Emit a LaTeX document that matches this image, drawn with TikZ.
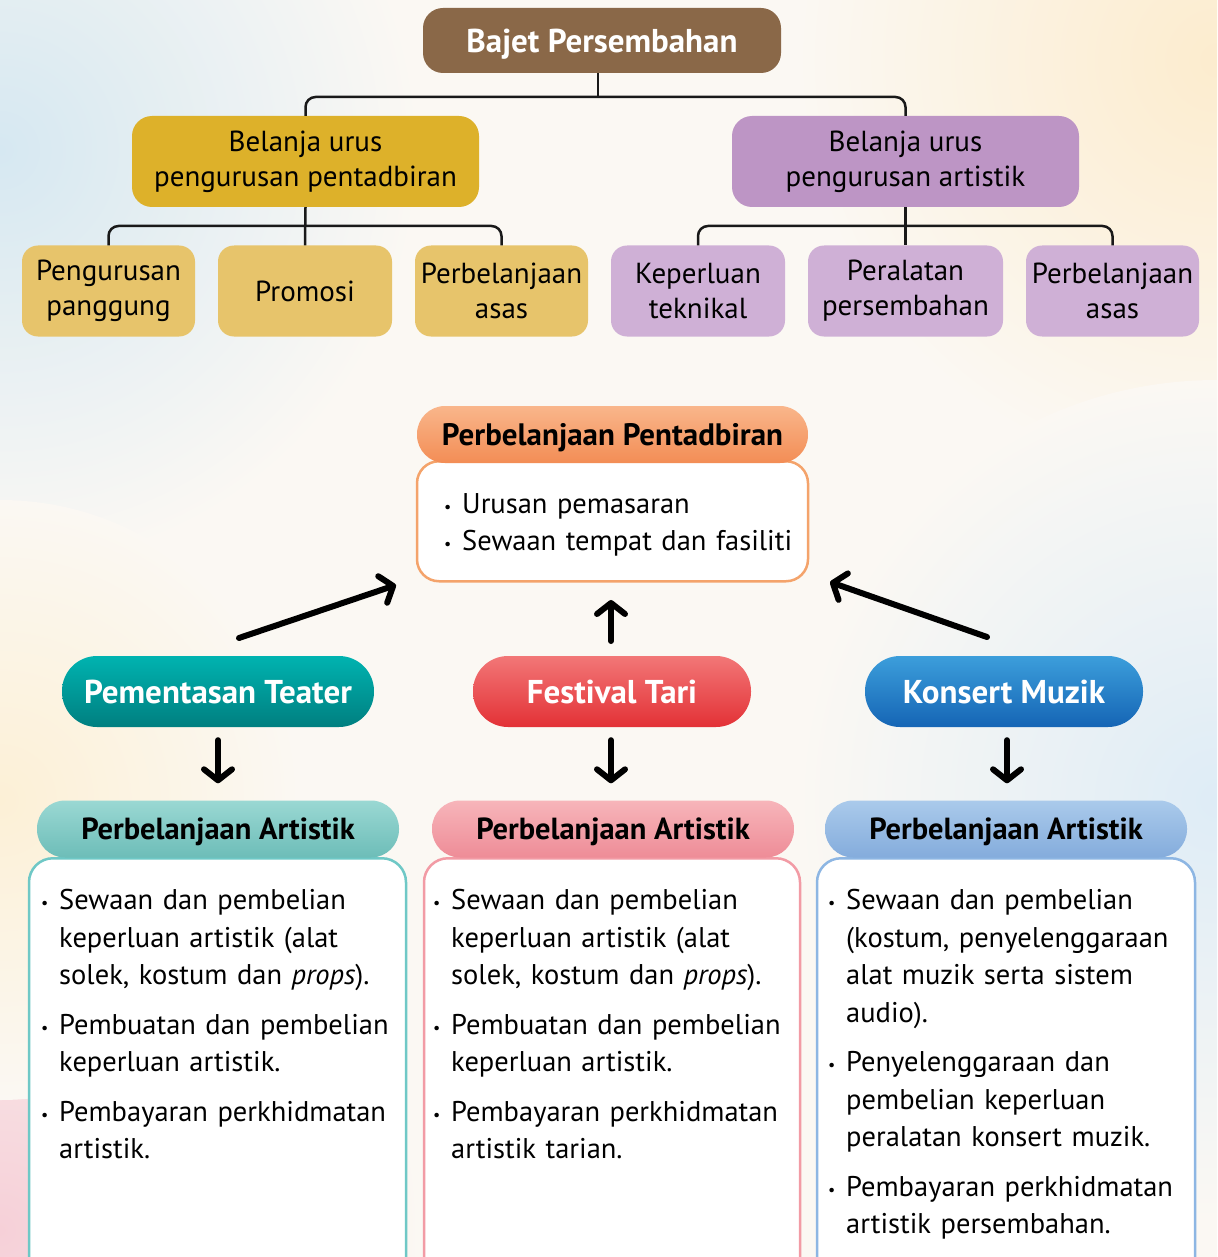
\documentclass[tikz,border=0pt]{standalone}
\usepackage{fontspec}
\setmainfont{PT Sans}
\usetikzlibrary{arrows.meta,calc}
\definecolor{bgbase}{HTML}{FBF8F3}
\definecolor{brownc}{HTML}{8A6848}
\definecolor{goldc}{HTML}{DDB12A}
\definecolor{purplec}{HTML}{BD95C5}
\definecolor{lgoldc}{HTML}{E7C46B}
\definecolor{lpurplec}{HTML}{CFB0D6}
\definecolor{orangeT}{HTML}{F9B68B}
\definecolor{orangeB}{HTML}{F38D55}
\definecolor{orangeL}{HTML}{F4A36B}
\definecolor{tealT}{HTML}{00B3B0}
\definecolor{tealB}{HTML}{007F80}
\definecolor{redT}{HTML}{F27777}
\definecolor{redB}{HTML}{E33136}
\definecolor{blueT}{HTML}{3C9EDB}
\definecolor{blueB}{HTML}{1565B5}
\definecolor{ltealT}{HTML}{9AD8D3}
\definecolor{ltealB}{HTML}{6DBDB8}
\definecolor{ltealL}{HTML}{6FC8C6}
\definecolor{pinkT}{HTML}{F7B5BA}
\definecolor{pinkB}{HTML}{EE8C97}
\definecolor{pinkL}{HTML}{F29BA5}
\definecolor{lblueT}{HTML}{AACAEB}
\definecolor{lblueB}{HTML}{84ACDC}
\definecolor{lblueL}{HTML}{8DB6E3}
\newlength\bulw
\setlength\bulw{18pt}
\newcommand\bitem[1]{\noindent\llap{\makebox[\bulw][l]{\raisebox{1pt}{\fontsize{16}{16}\selectfont •}}}#1\par}
\newcommand\bstart{\leftskip=\bulw\relax}
\tikzset{
  box/.style={rounded corners=16pt, inner sep=0pt, align=center, font=\fontsize{29}{35}\selectfont},
  pill/.style={rounded corners=35pt, inner sep=0pt, minimum width=278pt, minimum height=71pt, text=white, text depth=0pt, font=\bfseries\fontsize{33}{34}\selectfont},
  hdr/.style={rounded corners=28pt, inner sep=0pt, minimum width=362pt, minimum height=57pt, text depth=0pt, font=\bfseries\fontsize{30.5}{32}\selectfont},
  body/.style={draw, line width=2.5pt, fill=white, rounded corners=24pt, inner sep=0pt, minimum width=377pt, minimum height=440pt},
  bodytext/.style={anchor=north west, inner sep=0pt, text width=372pt, align=left, font=\fontsize{28.5}{37.5}\selectfont},
  tree/.style={line width=2.5pt, draw=black!90, rounded corners=10pt},
  bigarrow/.style={line width=6pt, line cap=round, line join=round, -{Straight Barb[length=11pt,width=28pt,round]}}
}
\begin{document}
\begin{tikzpicture}[x=1pt,y=-1pt]
\clip (0,0) rectangle (1217,1257);
\useasboundingbox (0,0) rectangle (1217,1257);
% background
\fill[bgbase] (0,0) rectangle (1217,1257);
\shade[inner color={rgb,255:red,214;green,232;blue,242}, outer color=bgbase] (0,150) circle (420);
\shade[inner color={rgb,255:red,252;green,236;blue,206}, outer color=bgbase] (1217,60) circle (420);
\shade[inner color={rgb,255:red,246;green,208;blue,216}, outer color=bgbase] (0,1230) circle (420);
\shade[inner color={rgb,255:red,222;green,236;blue,246}, outer color=bgbase] (1217,800) circle (420);
\shade[inner color={rgb,255:red,252;green,240;blue,214}, outer color=bgbase] (0,800) circle (300);

% ---------- tree ----------
\node[box, fill=brownc, minimum width=358pt, minimum height=65pt, rounded corners=20pt, text=white, text depth=0pt, font=\bfseries\fontsize{33}{34}\selectfont] (top) at (602,40.5) {Bajet Persembahan};
\node[box, fill=goldc, minimum width=347pt, minimum height=91pt, rounded corners=20pt] (bl) at (305.5,161.5) {Belanja urus\\pengurusan pentadbiran};
\node[box, fill=purplec, minimum width=347pt, minimum height=91pt, rounded corners=20pt] (br) at (905.5,161.5) {Belanja urus\\pengurusan artistik};

\node[box, fill=lgoldc, minimum width=173pt, minimum height=91pt] (a1) at (108.5,291) {Pengurusan\\panggung};
\node[box, fill=lgoldc, minimum width=174pt, minimum height=91pt] (a2) at (305,291) {Promosi};
\node[box, fill=lgoldc, minimum width=173pt, minimum height=91pt] (a3) at (501.5,291) {Perbelanjaan\\asas};
\node[box, fill=lpurplec, minimum width=174pt, minimum height=91pt] (b1) at (698,291) {Keperluan\\teknikal};
\node[box, fill=lpurplec, minimum width=195pt, minimum height=91pt] (b2) at (905.5,291) {Peralatan\\persembahan};
\node[box, fill=lpurplec, minimum width=173pt, minimum height=91pt] (b3) at (1112.5,291) {Perbelanjaan\\asas};

\coordinate (j1) at (598,97);
\coordinate (j2) at (305,226);
\coordinate (j3) at (905.5,226);
\draw[tree] (top.south -| j1) -- (j1);
\draw[tree] (bl.north) |- (j1) -| (br.north);
\draw[tree] (bl.south) -- (a2.north);
\draw[tree] (a1.north) |- (j2) -| (a3.north);
\draw[tree] (br.south) -- (b2.north);
\draw[tree] (b1.north) |- (j3) -| (b3.north);

% ---------- Pentadbiran ----------
\node[body, draw=orangeL, minimum width=391pt, minimum height=120pt, rounded corners=22pt, anchor=north] (pbody) at (612.5,460) {};
\node[hdr, minimum width=391pt, top color=orangeT, bottom color=orangeB, font=\bfseries\fontsize{31}{32}\selectfont] (phdr) at (612.5,434.5) {Perbelanjaan Pentadbiran};
\node[bodytext, text width=360pt, font=\fontsize{28.5}{37}\selectfont] (ptext) at (444,493) {\bstart
\bitem{Urusan pemasaran}
\bitem{Sewaan tempat dan fasiliti}};

% ---------- pills ----------
\node[pill, minimum width=312pt, top color=tealT, bottom color=tealB] (teater) at (218,691.5) {Pementasan Teater};
\node[pill, top color=redT, bottom color=redB] (tari) at (612,691.5) {Festival Tari};
\node[pill, top color=blueT, bottom color=blueB] (muzik) at (1004,691.5) {Konsert Muzik};

% arrows up
\coordinate (uL1) at (239,638);
\coordinate (uL2) at (396,585);
\coordinate (uM1) at (611,641);
\coordinate (uM2) at (611,600);
\coordinate (uR1) at (987,637);
\coordinate (uR2) at (830,582);
\draw[bigarrow] (uL1) -- (uL2);
\draw[bigarrow] (uM1) -- (uM2);
\draw[bigarrow] (uR1) -- (uR2);

% ---------- artistik boxes ----------
\node[body, draw=ltealL, anchor=north] (t1body) at (217.5,857) {};
\node[body, draw=pinkL, minimum width=376pt, anchor=north] (t2body) at (612,857) {};
\node[body, draw=lblueL, minimum width=378pt, anchor=north] (t3body) at (1006,857) {};
\node[hdr, top color=ltealT, bottom color=ltealB] (t1hdr) at (218,829) {Perbelanjaan Artistik};
\node[hdr, top color=pinkT, bottom color=pinkB] (t2hdr) at (613,829) {Perbelanjaan Artistik};
\node[hdr, top color=lblueT, bottom color=lblueB] (t3hdr) at (1006,829) {Perbelanjaan Artistik};

% arrows down
\draw[bigarrow] ($(teater.south)+(0,13)$) -- ($(t1hdr.north)+(0,-17)$);
\draw[bigarrow] ($(tari.south)+(-1,13)$) -- ($(t2hdr.north)+(-2,-17)$);
\draw[bigarrow] ($(muzik.south)+(3,13)$) -- ($(t3hdr.north)+(1,-17)$);

\node[bodytext] (t1text) at (41,889) {\bstart
\bitem{Sewaan dan pembelian\\keperluan artistik (alat\\solek, kostum dan \emph{props}).}\vspace{12pt}
\bitem{Pembuatan dan pembelian\\keperluan artistik.}\vspace{12pt}
\bitem{Pembayaran perkhidmatan\\artistik.}};
\node[bodytext] (t2text) at (433,889) {\bstart
\bitem{Sewaan dan pembelian\\keperluan artistik (alat\\solek, kostum dan \emph{props}).}\vspace{12pt}
\bitem{Pembuatan dan pembelian\\keperluan artistik.}\vspace{12pt}
\bitem{Pembayaran perkhidmatan\\artistik tarian.}};
\node[bodytext] (t3text) at (828,889) {\bstart
\bitem{Sewaan dan pembelian\\(kostum, penyelenggaraan\\alat muzik serta sistem\\audio).}\vspace{12pt}
\bitem{Penyelenggaraan dan\\pembelian keperluan\\peralatan konsert muzik.}\vspace{12pt}
\bitem{Pembayaran perkhidmatan\\artistik persembahan.}};
\end{tikzpicture}
\end{document}
